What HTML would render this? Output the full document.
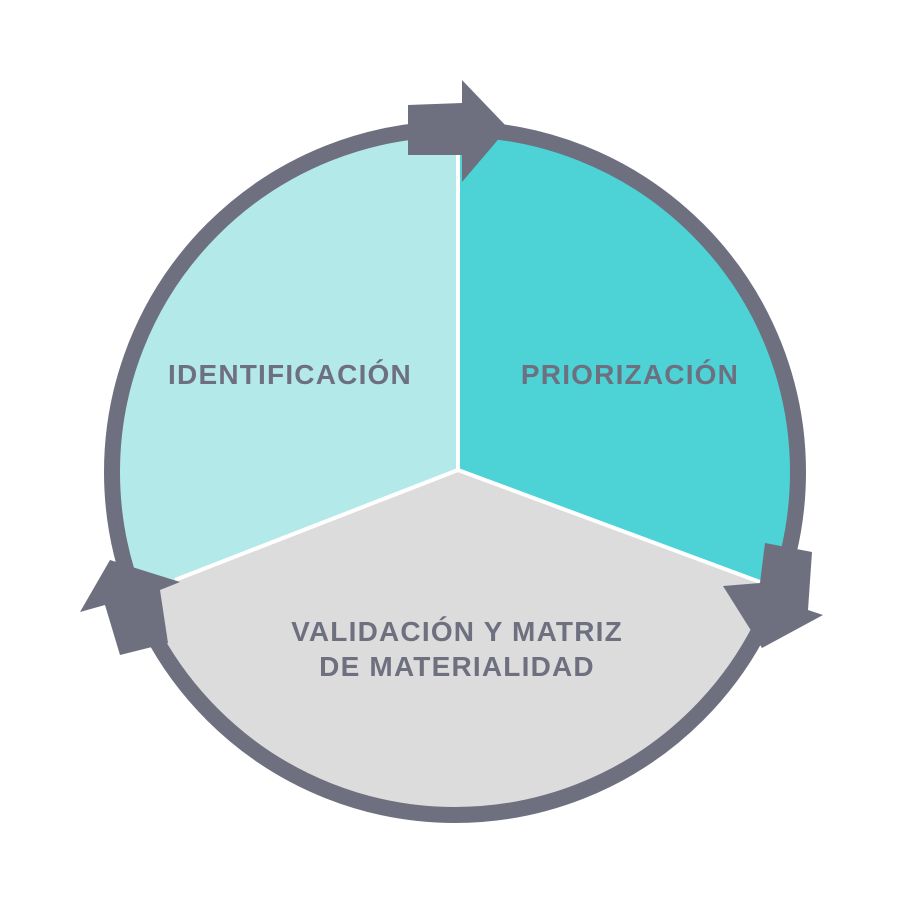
<!DOCTYPE html>
<html><head><style>body{margin:0;background:#fff}svg{display:block}</style></head>
<body>
<svg width="904" height="904" viewBox="0 0 904 904" xmlns="http://www.w3.org/2000/svg">
<defs><clipPath id="c"><circle cx="455" cy="472" r="343"/></clipPath>
<clipPath id="s"><rect x="700" y="250" width="200" height="185"/></clipPath></defs>
<circle cx="457" cy="473" r="349" fill="#4dd2d6" clip-path="url(#s)"/>
<g clip-path="url(#c)">
<rect x="0" y="0" width="904" height="904" fill="#dcdcdc"/>
<polygon points="458,470 458,0 0,0 0,650 175,580" fill="#b4e9ea"/>
<polygon points="458,470 458,0 904,0 904,650 755,580" fill="#4dd2d6"/>
<polyline points="458,120 458,470 175,580" fill="none" stroke="#fff" stroke-width="4"/>
<line x1="458" y1="470" x2="760" y2="582" stroke="#fff" stroke-width="4"/>
</g>
<circle cx="455" cy="472" r="343" fill="none" stroke="#6e7080" stroke-width="16"/>
<g fill="#6e7080">
<polygon points="408,105 462,103 462,80 508,128 462,182 462,155 408,155"/>
<polygon points="765,543 812,552 808,610 823,615 762,648 723,586 760,583"/>
<polygon points="110,560 80,612 105,605 120,655 168,643 160,590 180,582"/>
</g>
<g font-family="Liberation Sans, sans-serif" font-weight="bold" font-size="28" fill="#6e7080" text-anchor="middle" letter-spacing="1.2">
<text x="290" y="384">IDENTIFICACIÓN</text>
<text x="630" y="384">PRIORIZACIÓN</text>
<text x="457" y="641">VALIDACIÓN Y MATRIZ</text>
<text x="457" y="676">DE MATERIALIDAD</text>
</g>
</svg>
</body></html>
